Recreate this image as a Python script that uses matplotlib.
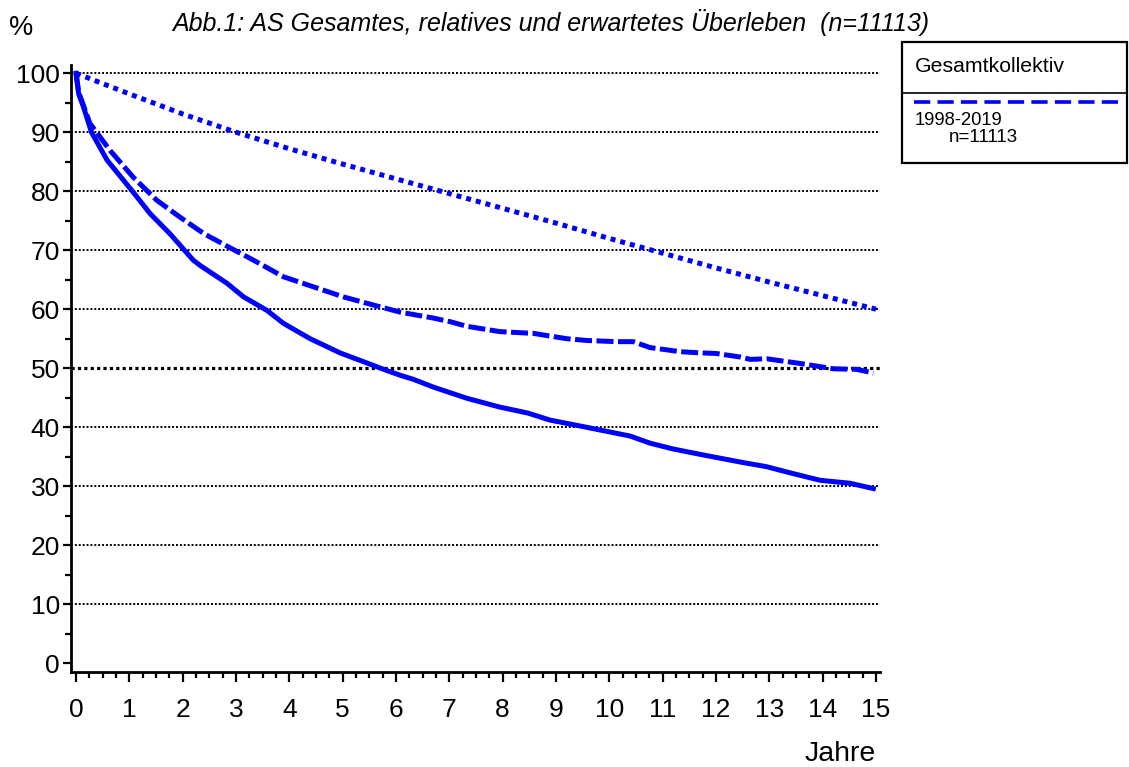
import numpy as np
import matplotlib
matplotlib.use("Agg")
import matplotlib.pyplot as plt
from matplotlib.lines import Line2D
from matplotlib.patches import Rectangle
from matplotlib.ticker import MultipleLocator

plt.rcParams['font.family'] = ['Liberation Sans', 'DejaVu Sans']

# Data (years, percent)
years_obs = [0, 0.05, 0.14, 0.29, 0.58, 1.04, 1.39, 1.76, 2.2, 2.33, 2.83, 3.14, 3.58, 3.89,
             4.39, 4.95, 5.45, 5.83, 6.08, 6.33, 6.7, 7.33, 7.95, 8.47, 8.89, 9.51, 9.84,
             10.39, 10.76, 11.2, 11.7, 12.45, 12.95, 13.33, 13.95, 14.51, 14.95]
overall = [100, 96.5, 94.3, 90.0, 85.3, 80.2, 76.2, 72.8, 68.3, 67.4, 64.4, 62.1, 59.8, 57.6,
           55.0, 52.6, 50.9, 49.6, 48.8, 48.1, 46.8, 44.9, 43.4, 42.4, 41.2, 40.1, 39.5,
           38.5, 37.3, 36.3, 35.4, 34.1, 33.3, 32.4, 31.0, 30.5, 29.6]

years_rel = [0, 0.05, 0.26, 0.64, 1.07, 1.51, 1.95, 2.4, 2.85, 3.33, 3.89, 4.45, 5.01, 5.58,
             6.08, 6.7, 7.01, 7.33, 7.95, 8.58, 9.2, 9.58, 10.14, 10.45, 10.76, 11.33, 11.7,
             12.0, 12.45, 12.64, 12.95, 13.58, 14.2, 14.64, 14.95]
relative = [100, 96.8, 91.5, 86.9, 82.4, 78.5, 75.6, 72.8, 70.6, 68.3, 65.5, 63.8, 62.1, 60.7,
            59.5, 58.5, 57.9, 57.1, 56.2, 55.9, 55.0, 54.7, 54.5, 54.5, 53.5, 52.8, 52.6,
            52.5, 51.9, 51.5, 51.6, 50.8, 49.9, 49.8, 49.2]

years_exp = [0, 1, 2, 3, 4, 5, 6, 7, 8, 9, 10, 11, 12, 13, 14, 15]
expected = [100, 96.5, 93.1, 90.0, 87.2, 84.6, 82.1, 79.6, 77.1, 74.6, 72.0, 69.5, 67.0, 64.6, 62.3, 60.0]

grid_levels = [10, 20, 30, 40, 50, 60, 70, 80, 90, 100]

title = "Abb.1: AS Gesamtes, relatives und erwartetes Überleben  (n=11113)"
legend_title = "Gesamtkollektiv"
legend_label = "1998-2019"
legend_n = "n=11113"

W, H = 1129, 767
blue = "#0000ff"


def fx(x):
    return x / W


def fy(y):
    return 1 - y / H


fig = plt.figure(figsize=(W / 100, H / 100), dpi=100)
ax = fig.add_axes([fx(71), fy(672), fx(880) - fx(71), fy(65) - fy(672)])
ax.set_xlim(-0.094, 15.075)
ax.set_ylim(-1.5, 101.4)

# dotted grid lines, the 50% line heavier
for lev in grid_levels:
    lw = 2.3 if lev == 50 else 1.4
    ax.plot([-0.094, 15.075], [lev, lev], color="black", lw=lw,
            linestyle=(0, (1, 1)), dash_capstyle="butt", zorder=1)

ax.plot(years_exp, expected, color=blue, lw=3.6, linestyle=(0, (1, 1)),
        dash_capstyle="butt", zorder=3)
ax.plot(years_rel, relative, color=blue, lw=3.6, linestyle=(0, (3.4, 0.9)),
        dash_capstyle="butt", zorder=3)
ax.plot(years_obs, overall, color=blue, lw=3.6, solid_joinstyle="round", zorder=3)

for s in ["top", "right"]:
    ax.spines[s].set_visible(False)
for s in ["left", "bottom"]:
    ax.spines[s].set_linewidth(2)

ax.set_yticks(range(0, 101, 10))
ax.yaxis.set_minor_locator(MultipleLocator(5))
ax.set_xticks(range(0, 16))
ax.xaxis.set_minor_locator(MultipleLocator(0.25))
ax.tick_params(axis="y", which="major", length=6, width=1.6, labelsize=19, pad=2)
ax.tick_params(axis="y", which="minor", length=4, width=1.6)
ax.tick_params(axis="x", which="major", length=7, width=1.6, labelsize=19, pad=12)
ax.tick_params(axis="x", which="minor", length=4, width=1.6)

fig.text(fx(9), fy(35), "%", fontsize=19.5, ha="left", va="baseline")
fig.text(fx(172), fy(31), title, fontsize=18, style="italic", ha="left", va="baseline")
fig.text(fx(876), fy(761), "Jahre", fontsize=20.5, ha="right", va="baseline")

# legend box
fig.add_artist(Rectangle((fx(902), fy(163)), fx(1127) - fx(902), fy(42) - fy(163),
                         transform=fig.transFigure, fill=False, lw=1.6, edgecolor="black"))
fig.add_artist(Line2D([fx(902), fx(1127)], [fy(93), fy(93)], transform=fig.transFigure,
                      color="black", lw=1.2))
fig.add_artist(Line2D([fx(914), fx(1119)], [fy(101.5), fy(101.5)], transform=fig.transFigure,
                      color=blue, lw=2.6, linestyle=(0, (4.5, 2)), dash_capstyle="butt"))
fig.text(fx(915), fy(72), legend_title, fontsize=15.3, ha="left", va="baseline")
fig.text(fx(915), fy(125), legend_label, fontsize=13.2, ha="left", va="baseline")
fig.text(fx(949), fy(142), legend_n, fontsize=13.5, ha="left", va="baseline")

fig.savefig("out.png", dpi=100)
